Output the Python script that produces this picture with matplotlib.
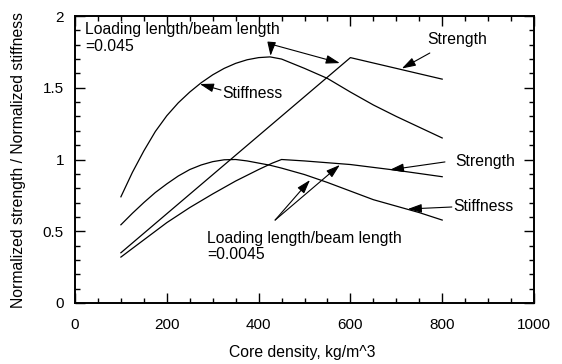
import matplotlib
matplotlib.use("Agg")
import matplotlib.pyplot as plt
from matplotlib.ticker import MultipleLocator

plt.rcParams['font.family'] = ['Liberation Sans', 'DejaVu Sans']

# ---- data ----
# Loading length / beam length = 0.045
stiff_hi_x = [100, 125, 150, 175, 200, 225, 250, 275, 300, 325, 350, 375, 400, 425,
              450, 500, 550, 600, 650, 700, 750, 800]
stiff_hi_y = [0.74, 0.91, 1.06, 1.195, 1.305, 1.395, 1.47, 1.535, 1.59, 1.635, 1.67, 1.695, 1.71, 1.715,
              1.70, 1.635, 1.565, 1.47, 1.38, 1.30, 1.225, 1.15]
str_hi_x = [100, 600, 800]
str_hi_y = [0.35, 1.71, 1.56]

# Loading length / beam length = 0.0045
stiff_lo_x = [100, 125, 150, 175, 200, 225, 250, 275, 300, 325, 350, 375, 400, 425,
              450, 500, 550, 600, 650, 700, 750, 800]
stiff_lo_y = [0.545, 0.625, 0.70, 0.77, 0.83, 0.885, 0.93, 0.962, 0.985, 0.998, 1.0, 0.99, 0.975, 0.96,
              0.94, 0.895, 0.84, 0.78, 0.72, 0.675, 0.63, 0.578]
str_lo_x = [100, 150, 200, 250, 300, 350, 400, 430, 450, 500, 600, 700, 800]
str_lo_y = [0.32, 0.44, 0.56, 0.665, 0.76, 0.85, 0.93, 0.975, 1.0, 0.99, 0.965, 0.925, 0.88]

x_ticks = [0, 200, 400, 600, 800, 1000]
y_ticks = [0, 0.5, 1, 1.5, 2]
y_tick_labels = ['0', '0.5', '1', '1.5', '2']

FS = 11.3
TFS = 11

fig = plt.figure(figsize=(5.62, 3.64), dpi=100)
ax = fig.add_axes([75/562, 61/364, 459/562, 287/364])

lw = 0.9
for xs, ys in [(stiff_hi_x, stiff_hi_y), (str_hi_x, str_hi_y),
               (stiff_lo_x, stiff_lo_y), (str_lo_x, str_lo_y)]:
    ax.plot(xs, ys, color='black', lw=lw)

ax.set_xlim(0, 1000)
ax.set_ylim(0, 2)
ax.set_xticks(x_ticks)
ax.set_yticks(y_ticks)
ax.set_yticklabels(y_tick_labels)
ax.xaxis.set_minor_locator(MultipleLocator(50))
ax.yaxis.set_minor_locator(MultipleLocator(0.1))
ax.tick_params(which='both', direction='in', top=True, right=True, width=1.0, colors='black')
ax.tick_params(which='major', length=7, labelsize=TFS)
ax.tick_params(which='minor', length=3.5)
ax.tick_params(axis='x', which='major', pad=10.5)
ax.tick_params(axis='y', which='major', pad=8)
for s in ax.spines.values():
    s.set_linewidth(1.4)

ax.set_xlabel('Core density, kg/m^3', fontsize=FS, va='center')
ax.xaxis.set_label_coords(0.4956, -0.174)
ax.set_ylabel('Normalized strength / Normalized stiffness', fontsize=FS, va='center')
ax.yaxis.set_label_coords(-0.124, 0.5)

ap = dict(arrowstyle='-|>,head_length=0.7,head_width=0.22', color='black', lw=0.8,
          shrinkA=0, shrinkB=0, mutation_scale=12)

def arrow(tail, tip):
    ax.annotate('', xy=tip, xytext=tail, arrowprops=ap)

# upper group annotations
ax.text(22, 1.955, 'Loading length/beam length\n=0.045', fontsize=FS, ha='left', va='top',
        linespacing=1.1)
arrow((428, 1.80), (426, 1.722))
arrow((431, 1.80), (577, 1.672))
ax.text(320, 1.463, 'Stiffness', fontsize=FS, ha='left', va='center')
arrow((318, 1.484), (272, 1.526))
ax.text(767, 1.833, 'Strength', fontsize=FS, ha='left', va='center')
arrow((773, 1.742), (712, 1.634))

# lower group annotations
ax.text(828, 0.983, 'Strength', fontsize=FS, ha='left', va='center')
arrow((806, 0.983), (686, 0.928))
ax.text(824, 0.669, 'Stiffness', fontsize=FS, ha='left', va='center')
arrow((821, 0.669), (725, 0.655))
ax.text(288, 0.505, 'Loading length/beam length\n=0.0045', fontsize=FS, ha='left', va='top',
        linespacing=1.1)
arrow((436, 0.578), (512, 0.857))
arrow((436, 0.578), (577, 0.962))

fig.savefig('out.png', dpi=100)
